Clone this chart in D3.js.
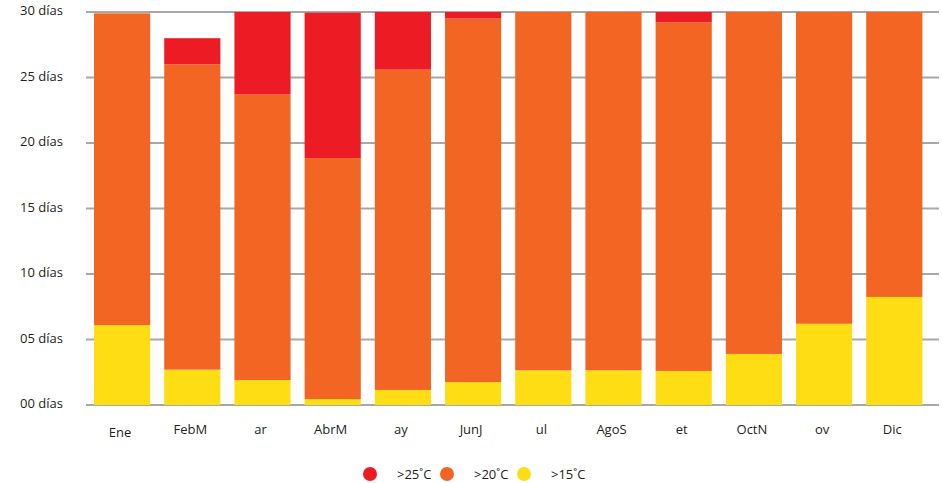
<!DOCTYPE html>
<html>
<head>
<meta charset="utf-8">
<script src="https://cdn.jsdelivr.net/npm/d3@7"></script>
<style>
  body { margin: 0; background: #fff; }
  text { font-family: "Open Sans", sans-serif; fill: #231f20; }
</style>
</head>
<body>
<div id="chart"></div>
<script>
// chart data
var months = ["Ene", "FebM", "ar", "AbrM", "ay", "JunJ", "ul", "AgoS", "et", "OctN", "ov", "Dic"];
var over15 = [6.1, 2.7, 1.9, 0.45, 1.15, 1.75, 2.65, 2.65, 2.6, 3.9, 6.2, 8.25];
var over20 = [23.8, 23.3, 21.8, 18.4, 24.45, 27.75, 27.35, 27.35, 26.6, 26.1, 23.8, 21.75];
var over25 = [0, 2.0, 6.3, 11.1, 4.4, 0.5, 0, 0, 0.8, 0, 0, 0];
var seriesKeys = ["over15", "over20", "over25"];
var seriesLabels = [">25˚C", ">20˚C", ">15˚C"];
var yTicks = [0, 5, 10, 15, 20, 25, 30];

var svgWidth = 942;
var svgHeight = 483;

var colors = { over15: "#ffdd15", over20: "#f26522", over25: "#ed1c24" };

var svg = d3.select("#chart")
  .append("svg")
  .attr("width", svgWidth)
  .attr("height", svgHeight);

var rows = months.map((m, i) => ({ month: m, over15: over15[i], over20: over20[i], over25: over25[i] }));
var stacked = d3.stack().keys(seriesKeys)(rows);

var x = d3.scaleBand()
  .domain(months)
  .range([87, 929.4])
  .paddingInner(0.2)
  .paddingOuter(0.1);

var y = d3.scaleLinear()
  .domain([0, 30])
  .range([405, 12]);

// gridlines
svg.append("g")
  .selectAll("line")
  .data(yTicks)
  .join("line")
  .attr("x1", 86)
  .attr("x2", 939)
  .attr("y1", d => y(d))
  .attr("y2", d => y(d))
  .attr("stroke", "#a8a8a8")
  .attr("stroke-width", 2);

// y labels
svg.append("g")
  .selectAll("text")
  .data(yTicks)
  .join("text")
  .attr("x", 63)
  .attr("y", d => y(d) - 1)
  .attr("dy", "0.34em")
  .attr("text-anchor", "end")
  .attr("font-size", "13px")
  .text(d => d3.format("02d")(d) + " días");

// bars
svg.append("g")
  .selectAll("g")
  .data(stacked)
  .join("g")
  .attr("fill", d => colors[d.key])
  .selectAll("rect")
  .data(d => d)
  .join("rect")
  .attr("x", d => x(d.data.month))
  .attr("y", d => y(d[1]))
  .attr("height", d => y(d[0]) - y(d[1]))
  .attr("width", x.bandwidth());

// x labels
svg.append("g")
  .selectAll("text")
  .data(months)
  .join("text")
  .attr("x", d => x(d) + x.bandwidth() / 2 - 2)
  .attr("y", (d, i) => i === 0 ? 437 : 434)
  .attr("text-anchor", "middle")
  .attr("font-size", "13px")
  .text(d => d);

// legend
var legendColors = [colors.over25, colors.over20, colors.over15];
var legendX = d3.scalePoint().domain(seriesLabels).range([370, 524]);

var legend = svg.append("g")
  .selectAll("g")
  .data(seriesLabels)
  .join("g")
  .attr("transform", d => `translate(${legendX(d)}, 474)`);

legend.append("circle")
  .attr("r", 7)
  .attr("fill", (d, i) => legendColors[i]);

legend.append("text")
  .attr("x", 27)
  .attr("y", 4.5)
  .attr("font-size", "13px")
  .text(d => d);
</script>
</body>
</html>
